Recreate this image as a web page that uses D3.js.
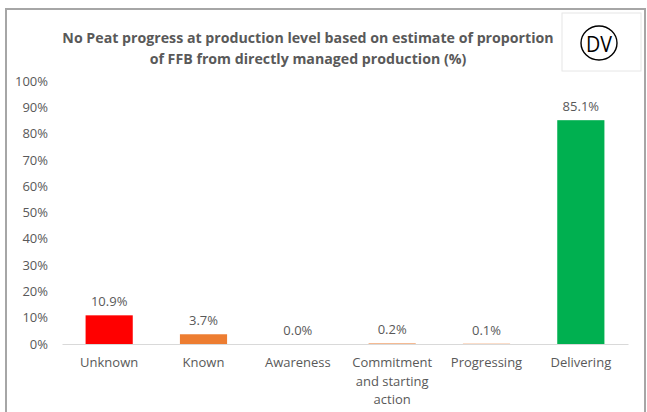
<!DOCTYPE html>
<html lang="en">
<head>
<meta charset="UTF-8">
<script src="https://d3js.org/d3.v7.min.js"></script>
<title>No Peat progress</title>
<style>
  body { margin: 0; background: #fff; }
  text { font-family: "Open Sans", sans-serif; fill: #595959; }
</style>
</head>
<body>
<div id="chart"></div>
<script>
// data
var categories = ["Unknown", "Known", "Awareness", "Commitment and starting action", "Progressing", "Delivering"];
var categoryLines = [["Unknown"], ["Known"], ["Awareness"], ["Commitment", "and starting", "action"], ["Progressing"], ["Delivering"]];
var values = [10.9, 3.7, 0.0, 0.2, 0.1, 85.1];
var barColors = ["#ff0000", "#ed7d31", "#ed7d31", "#ed7d31", "#ed7d31", "#00b050"];
var yTicks = [0, 10, 20, 30, 40, 50, 60, 70, 80, 90, 100];
var titleLines = ["No Peat progress at production level based on estimate of proportion",
                  "of FFB from directly managed production (%)"];

var W = 647, H = 412;
var margin = {top: 81, right: 19, bottom: 68, left: 62};
var width = W - margin.left - margin.right,
    height = H - margin.top - margin.bottom;

var svg = d3.select("#chart").append("svg")
    .attr("width", W)
    .attr("height", H);

// outer frame
svg.append("rect")
    .attr("x", 6).attr("y", 9)
    .attr("width", 639).attr("height", 420)
    .attr("fill", "none")
    .attr("stroke", "#a6a6a6")
    .attr("stroke-width", 2);

// logo box
var logo = svg.append("g").attr("transform", "translate(562,13)");
logo.append("rect")
    .attr("width", 79).attr("height", 58)
    .attr("fill", "#fff")
    .attr("stroke", "#e6e6e6");
logo.append("ellipse")
    .attr("cx", 37).attr("cy", 30).attr("rx", 18).attr("ry", 17)
    .attr("fill", "none").attr("stroke", "#000").attr("stroke-width", 1.4);
logo.append("text")
    .attr("x", 37).attr("y", 38.5)
    .attr("text-anchor", "middle")
    .style("font-size", "22px")
    .style("fill", "#000")
    .attr("textLength", 26)
    .attr("lengthAdjust", "spacingAndGlyphs")
    .text("DV");

// title
svg.append("g")
    .selectAll("text")
    .data(titleLines)
    .enter().append("text")
    .attr("text-anchor", "middle")
    .style("font-size", "14.2px")
    .style("font-weight", "bold")
    .attr("x", 308)
    .attr("y", function(d, i) { return 43 + i * 21; })
    .text(function(d) { return d; });

var g = svg.append("g")
    .attr("transform", "translate(" + margin.left + "," + margin.top + ")");

var x = d3.scaleBand()
    .domain(categories)
    .range([0, width])
    .paddingInner(0.5)
    .paddingOuter(0.25);

var y = d3.scaleLinear()
    .domain([0, 100])
    .range([height, 0]);

// y axis labels
var yAxis = g.append("g")
    .call(d3.axisLeft(y).tickValues(yTicks).tickSize(0).tickPadding(14)
        .tickFormat(function(d) { return d + "%"; }));
yAxis.select(".domain").remove();
yAxis.selectAll("text").style("font-size", "13px").style("fill", "#595959")
    .style("font-family", "\"Open Sans\", sans-serif");

// bars
g.selectAll(".bar")
    .data(values)
    .enter().append("rect")
    .attr("class", "bar")
    .attr("x", function(d, i) { return x(categories[i]); })
    .attr("y", function(d) { return y(d); })
    .attr("width", x.bandwidth())
    .attr("height", function(d) { return height - y(d); })
    .attr("fill", function(d, i) { return barColors[i]; });

// baseline
var xAxis = g.append("g")
    .attr("transform", "translate(0," + height + ")")
    .call(d3.axisBottom(x).tickSize(0).tickFormat(""));
xAxis.select(".domain").attr("stroke", "#d9d9d9");

// value labels
g.selectAll(".val")
    .data(values)
    .enter().append("text")
    .attr("class", "val")
    .attr("x", function(d, i) { return x(categories[i]) + x.bandwidth() / 2; })
    .attr("y", function(d) { return y(d) - 9; })
    .attr("text-anchor", "middle")
    .style("font-size", "13px")
    .text(function(d) { return d.toFixed(1) + "%"; });

// category labels
var cat = g.selectAll(".cat")
    .data(categories)
    .enter().append("text")
    .attr("class", "cat")
    .attr("text-anchor", "middle")
    .style("font-size", "13px");
cat.selectAll("tspan")
    .data(function(d, i) { return categoryLines[i].map(function(l) { return {line: l, c: d}; }); })
    .enter().append("tspan")
    .attr("x", function(d) { return x(d.c) + x.bandwidth() / 2; })
    .attr("y", function(d, j) { return height + 23 + j * 18.5; })
    .text(function(d) { return d.line; });
</script>
</body>
</html>
